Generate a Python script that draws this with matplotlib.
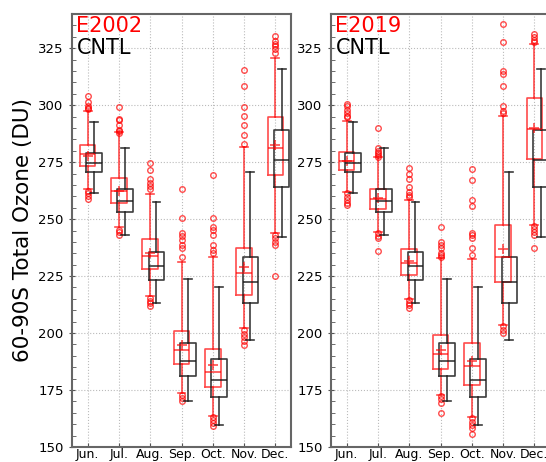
import matplotlib.pyplot as plt
from matplotlib.ticker import MultipleLocator

months = ["Jun.", "Jul.", "Aug.", "Sep.", "Oct.", "Nov.", "Dec."]

# CNTL (same in both panels)
cntl_q1 = [270.8, 253.2, 223.3, 181.1, 171.8, 213.2, 264.3]
cntl_med = [274.8, 258.0, 229.5, 187.8, 179.3, 222.6, 276.1]
cntl_q3 = [279.1, 263.0, 235.7, 195.7, 188.7, 233.5, 288.9]
cntl_lo = [261.5, 242.9, 213.4, 170.2, 159.7, 197.1, 242.0]
cntl_hi = [292.7, 281.2, 257.3, 223.6, 220.4, 270.7, 315.9]

# E2002
e02_q1 = [273.3, 257.0, 228.0, 186.5, 176.3, 216.8, 269.2]
e02_med = [278.4, 262.4, 233.8, 192.7, 183.0, 226.3, 281.3]
e02_q3 = [282.6, 268.1, 241.3, 201.1, 193.0, 237.2, 294.7]
e02_mean = [277.5, 262.4, 235.3, 194.6, 185.9, 229.2, 282.3]
e02_lo = [263.4, 246.4, 216.3, 173.5, 163.6, 202.2, 244.0]
e02_hi = [297.6, 288.2, 260.8, 231.3, 233.3, 281.6, 320.9]
e02_fliers = [
    [304.1, 301.3, 299.5, 298.8, 298.2, 262.4, 261.5, 260.3, 258.7],
    [299.4, 293.9, 293.4, 291.5, 289.0, 288.5, 287.6, 245.2, 244.3, 243.2],
    [274.6, 271.4, 267.5, 266.0, 264.6, 263.3, 215.5, 214.2, 213.0, 211.8],
    [263.0, 250.3, 243.9, 242.5, 241.0, 238.8, 237.3, 233.5, 173.0, 171.5, 170.2],
    [269.2, 250.7, 246.6, 245.3, 243.0, 238.6, 236.5, 235.0, 163.0, 161.8, 160.5, 159.2],
    [315.4, 308.6, 299.4, 295.2, 291.1, 286.7, 283.1, 201.5, 199.8, 198.3, 196.5, 194.9],
    [330.4, 328.0, 326.8, 325.9, 324.5, 323.1, 243.0, 241.5, 240.0, 238.6, 225.1],
]

# E2019
e19_q1 = [271.4, 254.4, 225.5, 184.3, 177.0, 222.6, 276.5]
e19_med = [275.3, 259.0, 230.6, 190.9, 185.7, 233.5, 289.6]
e19_q3 = [279.4, 263.2, 236.8, 199.0, 195.7, 247.4, 303.2]
e19_mean = [275.5, 259.2, 231.8, 192.7, 187.9, 236.8, 289.8]
e19_lo = [261.9, 244.5, 215.0, 172.8, 163.2, 203.7, 247.4]
e19_hi = [293.0, 277.2, 258.3, 232.8, 232.4, 295.4, 326.8]
e19_fliers = [
    [300.7, 299.5, 298.0, 296.6, 295.2, 294.6, 261.3, 259.8, 258.5, 257.2, 256.1],
    [290.1, 281.0, 280.0, 279.0, 278.0, 277.2, 243.8, 242.8, 241.7, 236.1],
    [272.3, 270.0, 267.8, 264.0, 262.0, 260.5, 259.7, 214.6, 213.4, 212.2, 211.0],
    [246.7, 240.1, 238.6, 237.2, 235.0, 234.2, 233.5, 172.3, 171.0, 169.4, 165.1],
    [272.2, 267.0, 258.6, 255.7, 244.0, 243.0, 241.6, 237.2, 234.3,
     162.6, 161.0, 159.6, 158.2, 155.6],
    [335.5, 327.8, 315.1, 313.6, 308.6, 299.8, 297.5, 296.5, 203.0, 201.5, 200.0],
    [331.2, 330.0, 328.8, 327.8, 247.0, 245.5, 244.2, 243.0, 237.2],
]


def make_stats(q1, med, q3, lo, hi, mean=None, fliers=None):
    stats = []
    for i in range(len(q1)):
        s = dict(q1=q1[i], med=med[i], q3=q3[i], whislo=lo[i], whishi=hi[i],
                 fliers=fliers[i] if fliers else [])
        if mean:
            s["mean"] = mean[i]
        stats.append(s)
    return stats


def draw_boxes(ax, stats, pos, color, alpha, show_mean):
    lp = dict(color=color, alpha=alpha, linewidth=1.2)
    ax.bxp(stats, positions=pos, widths=0.5, showmeans=show_mean,
           showfliers=True, manage_ticks=False,
           boxprops=lp, medianprops=lp, whiskerprops=lp, capprops=lp,
           meanprops=dict(marker="+", markeredgecolor=color, markersize=7,
                          markeredgewidth=1.2, alpha=alpha),
           flierprops=dict(marker="o", markerfacecolor="none",
                           markeredgecolor=color, markersize=4,
                           markeredgewidth=1.0, alpha=alpha))


fig = plt.figure(figsize=(5.46, 4.62), dpi=100)
ax1 = fig.add_axes([72 / 546, 15 / 462, 219 / 546, 433 / 462])
ax2 = fig.add_axes([331 / 546, 15 / 462, 219 / 546, 433 / 462])

x = list(range(1, 8))
xc = [p + 0.2 for p in x]
cntl = make_stats(cntl_q1, cntl_med, cntl_q3, cntl_lo, cntl_hi)

panels = [
    (ax1, "E2002", make_stats(e02_q1, e02_med, e02_q3, e02_lo, e02_hi, e02_mean, e02_fliers)),
    (ax2, "E2019", make_stats(e19_q1, e19_med, e19_q3, e19_lo, e19_hi, e19_mean, e19_fliers)),
]

for ax, name, exp in panels:
    draw_boxes(ax, exp, x, "red", 0.7, True)
    draw_boxes(ax, cntl, xc, "#1a1a1a", 0.85, False)
    ax.set_xlim(0.5, 7.5)
    ax.set_ylim(150, 340)
    ax.set_xticks(x)
    ax.set_xticklabels(months)
    ax.yaxis.set_major_locator(MultipleLocator(25))
    ax.yaxis.set_minor_locator(MultipleLocator(5))
    ax.tick_params(axis="y", which="major", direction="inout", length=5,
                   labelsize=9.5, color="#555555")
    ax.tick_params(axis="y", which="minor", direction="in", length=3,
                   color="#555555")
    ax.tick_params(axis="x", which="major", direction="in", length=3,
                   labelsize=9, color="#555555", pad=1)
    ax.grid(True, which="major", linestyle=":", color="#bbbbbb", linewidth=0.8)
    ax.set_axisbelow(True)
    for sp in ax.spines.values():
        sp.set_color("#666666")
        sp.set_linewidth(1.5)
    ax.text(0.02, 0.995, name, transform=ax.transAxes, color="red",
            fontsize=15, va="top", ha="left")
    ax.text(0.02, 0.945, "CNTL", transform=ax.transAxes, color="black",
            fontsize=15, va="top", ha="left")

ax1.set_ylabel("60-90S Total Ozone (DU)", fontsize=15.5)

fig.savefig("out.png", dpi=100)
